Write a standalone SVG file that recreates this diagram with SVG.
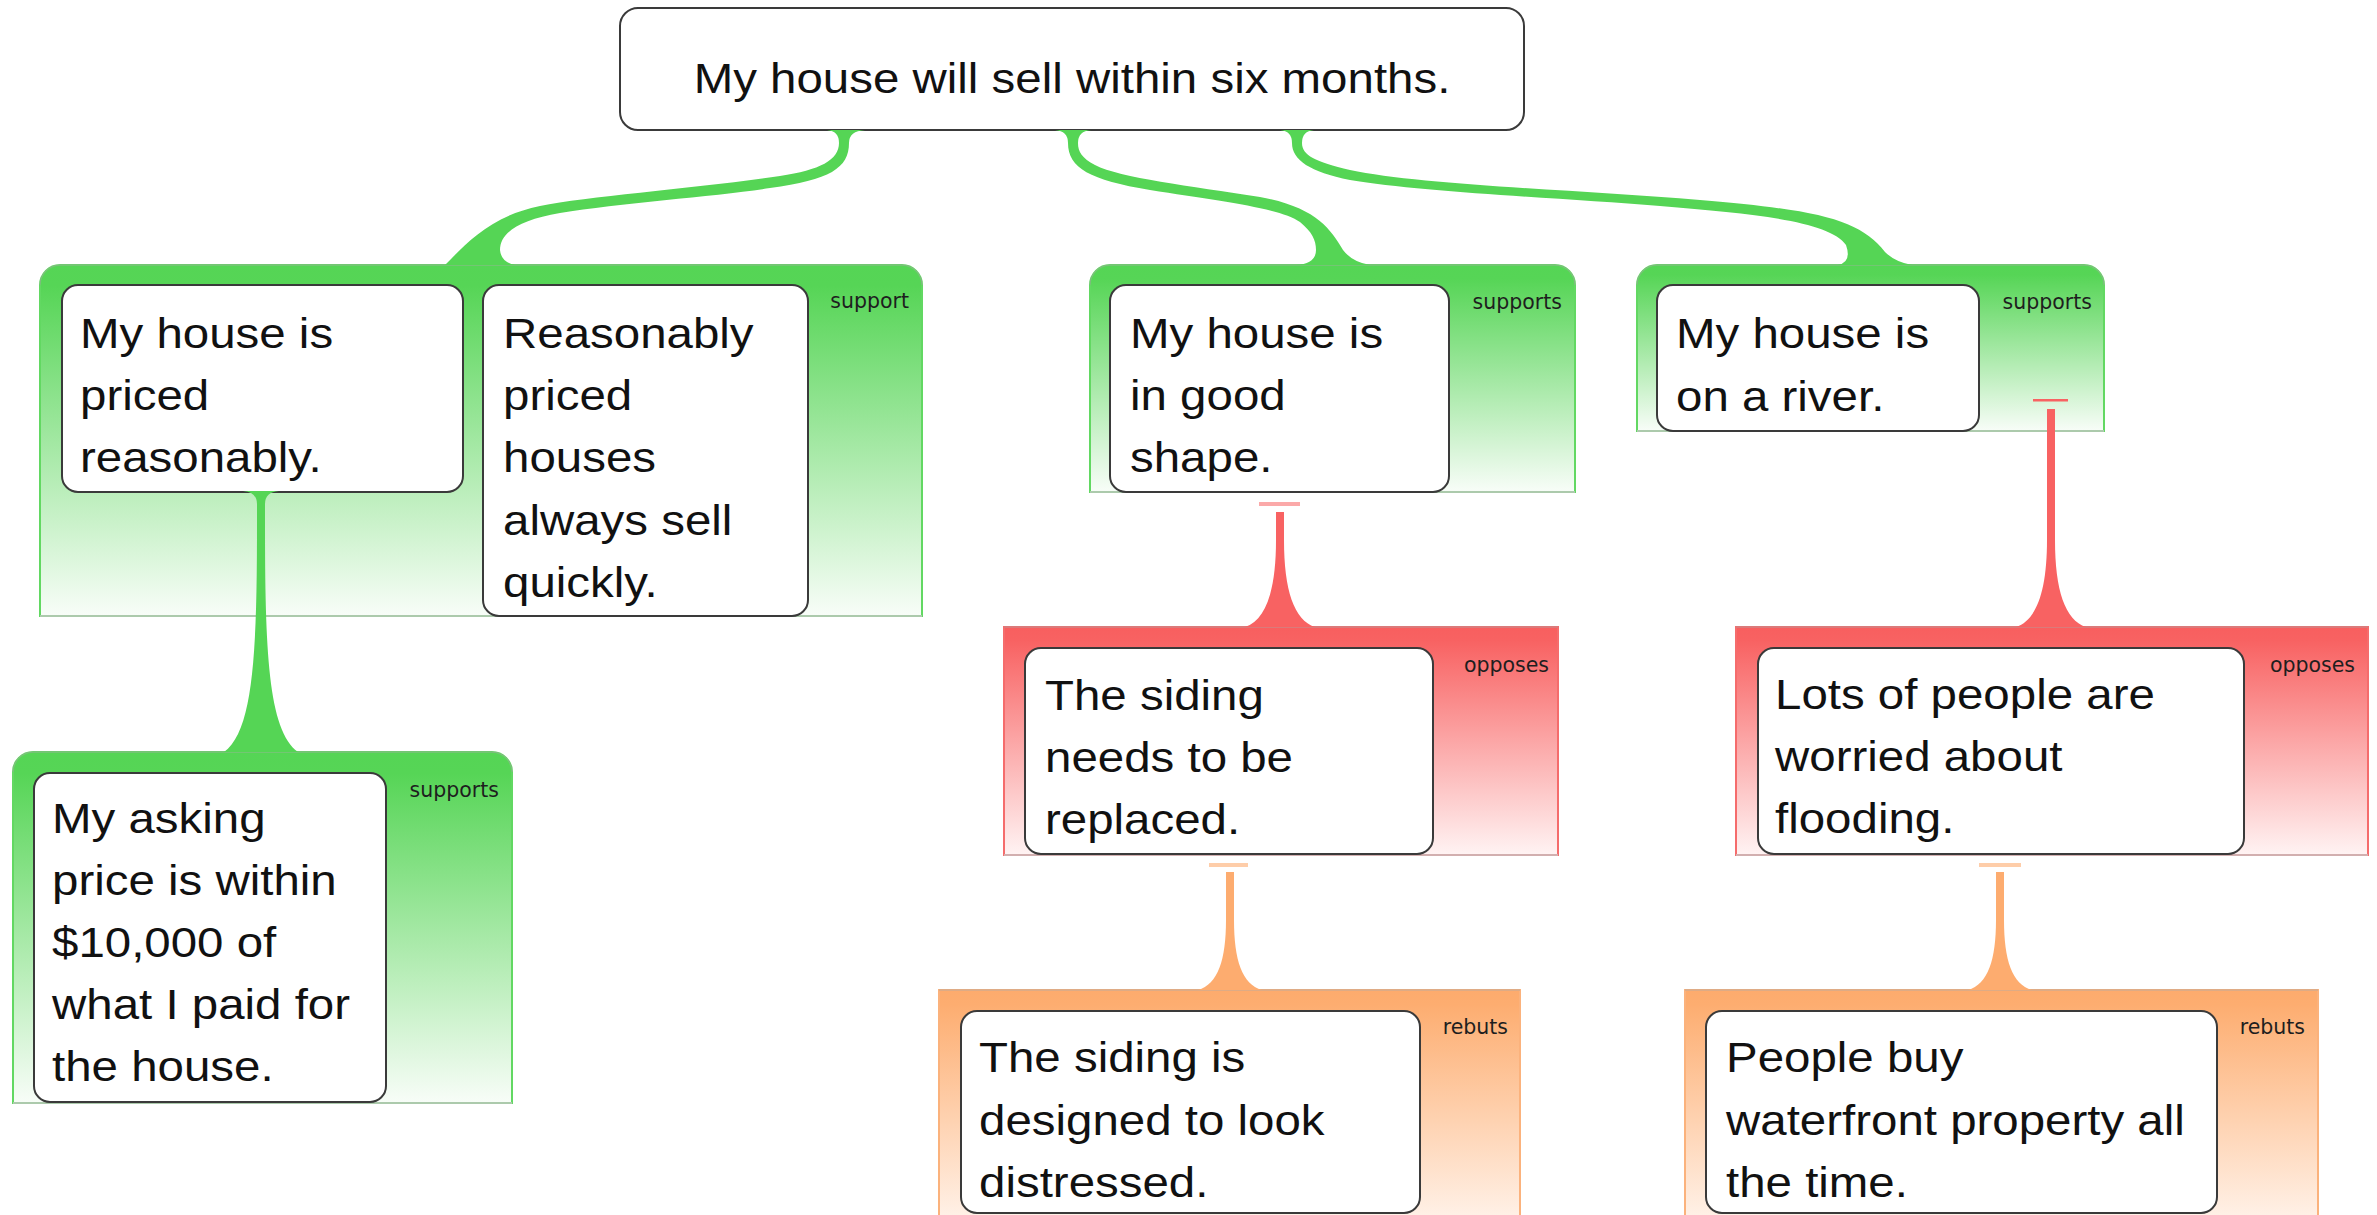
<svg xmlns="http://www.w3.org/2000/svg" width="2377" height="1215" viewBox="0 0 2377 1215">
  <defs>
    <linearGradient id="gGreen" x1="0" y1="0" x2="0" y2="1">
      <stop offset="0" stop-color="#55d555"/>
      <stop offset="0.06" stop-color="#56d556"/>
      <stop offset="1" stop-color="#f8fdf8"/>
    </linearGradient>
    <linearGradient id="gRed" x1="0" y1="0" x2="0" y2="1">
      <stop offset="0" stop-color="#f85f5f"/>
      <stop offset="0.06" stop-color="#f86262"/>
      <stop offset="1" stop-color="#fff3f3"/>
    </linearGradient>
    <linearGradient id="gOrange" x1="0" y1="0" x2="0" y2="1">
      <stop offset="0" stop-color="#fdab6d"/>
      <stop offset="0.06" stop-color="#fdad70"/>
      <stop offset="1" stop-color="#fff5ee"/>
    </linearGradient>
    <style>
      .box { fill: #ffffff; stroke: #3a3a3a; stroke-width: 2; }
      .tx { font-family: "Liberation Sans", Arial, sans-serif; font-size: 42px; fill: #111111; }
      .lb { font-family: "DejaVu Sans", "Liberation Sans", sans-serif; font-size: 20.5px; fill: #1e1e1e; text-anchor: end; }
      .grpG { fill: url(#gGreen); stroke: #62d862; stroke-width: 2; }
      .grpR { fill: url(#gRed); stroke: #f56c6c; stroke-width: 2; }
      .grpO { fill: url(#gOrange); stroke: #fbb27c; stroke-width: 2; }
      .rim { fill: none; stroke: #9c9c9c; stroke-width: 1; stroke-opacity: 0.6; }
      .base { fill: none; stroke: #c6c6c6; stroke-width: 1.5; }
      .cG { fill: #55d555; }
      .cR { fill: #f86262; }
      .cO { fill: #fdac6f; }
    </style>
  </defs>

  <rect width="2377" height="1215" fill="#ffffff"/>

  <!-- claim -->
  <g id="node-claim">
    <rect class="box" x="620" y="8" width="904" height="122" rx="18"/>
    <text class="tx" text-anchor="middle" transform="translate(1072 93) scale(1.13 1)">My house will sell within six months.</text>
  </g>

  <!-- reason: priced reasonably (support) -->
  <g id="group-support-price">
    <path class="grpG" d="M40,616 V285 A20,20 0 0 1 60,265 H902 A20,20 0 0 1 922,285 V616 Z"/>
    <path class="rim" d="M40,285 A20,20 0 0 1 60,265 H902 A20,20 0 0 1 922,285"/>
    <line class="base" x1="40" y1="616" x2="922" y2="616"/>
    <text class="lb" x="909" y="308">support</text>
    <g id="node-priced">
      <rect class="box" x="62" y="285" width="401" height="207" rx="16"/>
      <text class="tx" transform="translate(80 348) scale(1.13 1)"><tspan x="0" y="0">My house is</tspan><tspan x="0" y="62">priced</tspan><tspan x="0" y="124">reasonably.</tspan></text>
    </g>
    <g id="node-reasonably-priced">
      <rect class="box" x="483" y="285" width="325" height="331" rx="16"/>
      <text class="tx" transform="translate(503 348) scale(1.13 1)"><tspan x="0" y="0">Reasonably</tspan><tspan x="0" y="62">priced</tspan><tspan x="0" y="124">houses</tspan><tspan x="0" y="187">always sell</tspan><tspan x="0" y="249">quickly.</tspan></text>
    </g>
  </g>

  <!-- reason: asking price (supports) -->
  <g id="group-supports-asking">
    <path class="grpG" d="M13,1103 V772 A20,20 0 0 1 33,752 H492 A20,20 0 0 1 512,772 V1103 Z"/>
    <path class="rim" d="M13,772 A20,20 0 0 1 33,752 H492 A20,20 0 0 1 512,772"/>
    <line class="base" x1="13" y1="1103" x2="512" y2="1103"/>
    <text class="lb" x="499" y="797">supports</text>
    <g id="node-asking">
      <rect class="box" x="34" y="773" width="352" height="329" rx="16"/>
      <text class="tx" transform="translate(52 833) scale(1.13 1)"><tspan x="0" y="0">My asking</tspan><tspan x="0" y="62">price is within</tspan><tspan x="0" y="124">$10,000 of</tspan><tspan x="0" y="186">what I paid for</tspan><tspan x="0" y="248">the house.</tspan></text>
    </g>
  </g>

  <!-- reason: good shape (supports) -->
  <g id="group-supports-shape">
    <path class="grpG" d="M1090,492 V285 A20,20 0 0 1 1110,265 H1555 A20,20 0 0 1 1575,285 V492 Z"/>
    <path class="rim" d="M1090,285 A20,20 0 0 1 1110,265 H1555 A20,20 0 0 1 1575,285"/>
    <line class="base" x1="1090" y1="492" x2="1575" y2="492"/>
    <text class="lb" x="1562" y="309">supports</text>
    <g id="node-shape">
      <rect class="box" x="1110" y="285" width="339" height="207" rx="16"/>
      <text class="tx" transform="translate(1130 348) scale(1.13 1)"><tspan x="0" y="0">My house is</tspan><tspan x="0" y="62">in good</tspan><tspan x="0" y="124">shape.</tspan></text>
    </g>
  </g>

  <!-- reason: on a river (supports) -->
  <g id="group-supports-river">
    <path class="grpG" d="M1637,431 V285 A20,20 0 0 1 1657,265 H2084 A20,20 0 0 1 2104,285 V431 Z"/>
    <path class="rim" d="M1637,285 A20,20 0 0 1 1657,265 H2084 A20,20 0 0 1 2104,285"/>
    <line class="base" x1="1637" y1="431" x2="2104" y2="431"/>
    <text class="lb" x="2092" y="309">supports</text>
    <g id="node-river">
      <rect class="box" x="1657" y="285" width="322" height="146" rx="16"/>
      <text class="tx" transform="translate(1676 348) scale(1.13 1)"><tspan x="0" y="0">My house is</tspan><tspan x="0" y="63">on a river.</tspan></text>
    </g>
  </g>

  <!-- objection: siding (opposes) -->
  <g id="group-opposes-siding">
    <rect class="grpR" x="1004" y="627" width="554" height="228"/>
    <line class="rim" x1="1004" y1="627" x2="1558" y2="627"/>
    <line class="base" x1="1004" y1="855" x2="1558" y2="855"/>
    <text class="lb" x="1549" y="672">opposes</text>
    <g id="node-siding">
      <rect class="box" x="1025" y="648" width="408" height="206" rx="16"/>
      <text class="tx" transform="translate(1045 710) scale(1.13 1)"><tspan x="0" y="0">The siding</tspan><tspan x="0" y="62">needs to be</tspan><tspan x="0" y="124">replaced.</tspan></text>
    </g>
  </g>

  <!-- objection: flooding (opposes) -->
  <g id="group-opposes-flooding">
    <rect class="grpR" x="1736" y="627" width="632" height="228"/>
    <line class="rim" x1="1736" y1="627" x2="2368" y2="627"/>
    <line class="base" x1="1736" y1="855" x2="2368" y2="855"/>
    <text class="lb" x="2355" y="672">opposes</text>
    <g id="node-flooding">
      <rect class="box" x="1758" y="648" width="486" height="206" rx="16"/>
      <text class="tx" transform="translate(1775 709) scale(1.13 1)"><tspan x="0" y="0">Lots of people are</tspan><tspan x="0" y="62">worried about</tspan><tspan x="0" y="124">flooding.</tspan></text>
    </g>
  </g>

  <!-- rebuttal: siding design (rebuts) -->
  <g id="group-rebuts-siding">
    <rect class="grpO" x="939" y="990" width="581" height="240"/>
    <line class="rim" x1="939" y1="990" x2="1520" y2="990"/>
    <text class="lb" x="1508" y="1034">rebuts</text>
    <g id="node-distressed">
      <rect class="box" x="961" y="1011" width="459" height="202" rx="16"/>
      <text class="tx" transform="translate(979 1072) scale(1.13 1)"><tspan x="0" y="0">The siding is</tspan><tspan x="0" y="63">designed to look</tspan><tspan x="0" y="125">distressed.</tspan></text>
    </g>
  </g>

  <!-- rebuttal: waterfront (rebuts) -->
  <g id="group-rebuts-waterfront">
    <rect class="grpO" x="1685" y="990" width="633" height="240"/>
    <line class="rim" x1="1685" y1="990" x2="2318" y2="990"/>
    <text class="lb" x="2305" y="1034">rebuts</text>
    <g id="node-waterfront">
      <rect class="box" x="1706" y="1011" width="511" height="202" rx="16"/>
      <text class="tx" transform="translate(1726 1072) scale(1.13 1)"><tspan x="0" y="0">People buy</tspan><tspan x="0" y="63">waterfront property all</tspan><tspan x="0" y="125">the time.</tspan></text>
    </g>
  </g>

  <!-- connectors: tapered ribbons with filleted ends -->
  <g id="connectors">
    <!-- claim to priced-reasonably group -->
    <path class="cG" d="M827,130 Q839,131 839,143 C839,160 820,170 780,176 C700,188 590,196 540,206 C490,216 465,245 445,265 L515,265 Q501,262 500,250 C500,232 520,220 560,213 C620,203 720,196 770,188 C830,180 849,168 849,143 Q849,131 865,130 Z"/>
    <!-- claim to good-shape group -->
    <path class="cG" d="M1055,130 Q1068,131 1068,143 C1068,168 1090,180 1150,190 C1220,201 1280,208 1300,222 C1312,232 1316,240 1316,250 Q1316,264 1296,265 L1370,265 Q1352,262 1343,250 C1330,228 1315,207 1260,197 C1190,186 1120,178 1095,165 C1082,158 1078,152 1078,143 Q1078,131 1091,130 Z"/>
    <!-- claim to river group -->
    <path class="cG" d="M1280,130 Q1292,131 1292,143 C1292,160 1310,172 1350,180 C1420,192 1560,198 1660,206 C1760,214 1830,222 1846,245 Q1852,262 1838,265 L1912,265 Q1895,262 1885,252 C1860,220 1820,210 1700,200 C1580,190 1420,185 1350,170 C1315,162 1302,155 1302,143 Q1302,131 1314,130 Z"/>
    <!-- priced-reasonably to asking-price group -->
    <path class="cG" d="M243,491 Q257,492 257,504 L257,520 C257,650 254,730 224,752 L298,752 C268,730 265,650 265,520 L265,504 Q265,492 279,491 Z"/>
    <!-- siding objection against good shape -->
    <rect class="cR" x="1259" y="502" width="41" height="4" fill-opacity="0.55"/>
    <path class="cR" d="M1276,512 L1276,540 C1276,590 1266,620 1245,627 L1315,627 C1294,620 1284,590 1284,540 L1284,512 Z"/>
    <!-- flooding objection against river -->
    <rect class="cR" x="2033" y="399" width="35" height="2.5"/>
    <path class="cR" d="M2047,409 L2047,540 C2047,590 2037,620 2016,627 L2086,627 C2065,620 2055,590 2055,540 L2055,409 Z"/>
    <!-- rebuttal of siding objection -->
    <rect class="cO" x="1209" y="863" width="39" height="4" fill-opacity="0.6"/>
    <path class="cO" d="M1226,872 L1226,920 C1226,960 1218,984 1198,990 L1262,990 C1242,984 1234,960 1234,920 L1234,872 Z"/>
    <!-- rebuttal of flooding objection -->
    <rect class="cO" x="1979" y="863" width="42" height="4" fill-opacity="0.6"/>
    <path class="cO" d="M1996,872 L1996,920 C1996,960 1988,984 1968,990 L2032,990 C2012,984 2004,960 2004,920 L2004,872 Z"/>
  </g>
</svg>
